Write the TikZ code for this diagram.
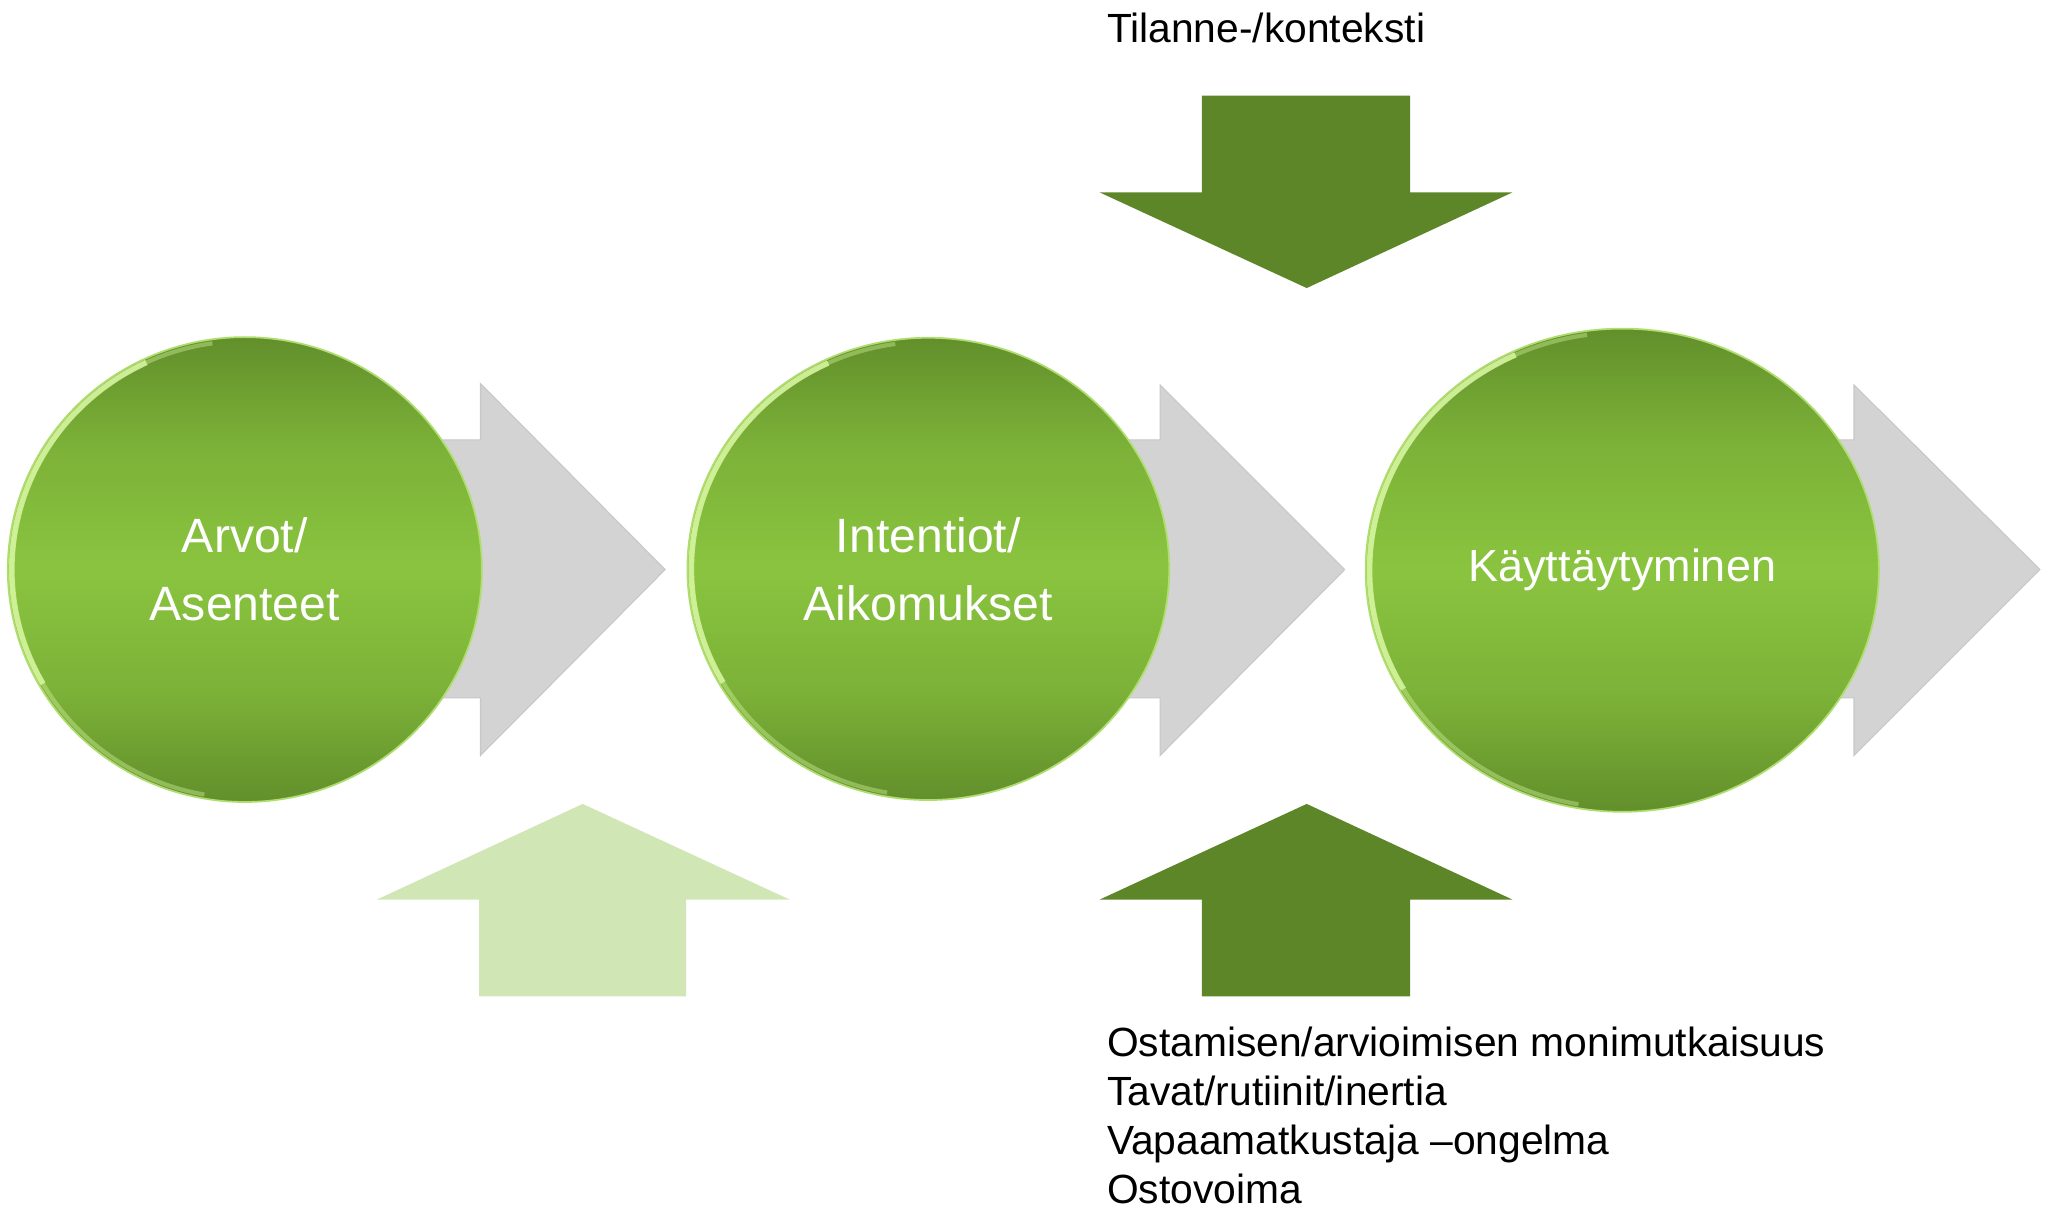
\documentclass[tikz,border=0pt]{standalone}
\usepackage{fontspec}
\setmainfont{Liberation Sans}
\usetikzlibrary{shapes.geometric}
\definecolor{stagedark}{RGB}{98,143,43}
\definecolor{stagelight}{RGB}{138,196,63}
\definecolor{stagemid}{RGB}{124,178,56}
\definecolor{stagerim}{RGB}{214,245,160}
\definecolor{factordark}{RGB}{92,134,39}
\definecolor{factorlight}{RGB}{208,230,181}
\definecolor{flowgray}{RGB}{211,211,211}
\pgfdeclareverticalshading{stageshade}{100bp}{color(0bp)=(stagedark); color(25bp)=(stagedark);
  color(37bp)=(stagemid); color(50bp)=(stagelight); color(63bp)=(stagemid); color(75bp)=(stagedark); color(100bp)=(stagedark)}

\begin{document}
\begin{tikzpicture}[x=0.013093cm, y=-0.013093cm,
    stage/.style={ellipse, inner sep=0pt, align=center, text=white,
      shading=stageshade, draw=stagerim!50!stagelight, line width=0.5pt,
      font=\fontsize{13.7}{19.3}\selectfont},
    flow/.style={fill=flowgray, draw=black!22, line width=0.3pt},
    push/.style={fill=factordark},
    pushlight/.style={fill=factorlight},
    rim/.style={draw=stagerim, line width=1.2pt, opacity=0.4},
    glow/.style={draw=stagerim, line width=1.6pt, opacity=0.85},
    factor/.style={anchor=base west, inner sep=0pt,
      font=\fontsize{11.6}{13.8}\selectfont}]
  \useasboundingbox (0,0) rectangle (1568,924);

  % gray process arrows, behind the stages
  \path[flow] (250,336) -- (367,336) -- (367,293) -- (508,435) -- (367,577) -- (367,533) -- (250,533) -- cycle;
  \path[flow] (760,336) -- (886,336) -- (886,294) -- (1027,435) -- (886,577) -- (886,533) -- (760,533) -- cycle;
  \path[flow] (1300,336) -- (1416,336) -- (1416,294) -- (1558,435) -- (1416,577) -- (1416,533) -- (1300,533) -- cycle;

  % stages
  \node[stage, minimum width=4.740cm, minimum height=4.648cm] (arvot) at (187,435) {Arvot/\\Asenteet};
  \node[stage, minimum width=4.818cm, minimum height=4.622cm] (intentiot) at (709,434.5) {Intentiot/\\Aikomukset};
  \node[stage, minimum width=5.132cm, minimum height=4.831cm,
    font=\fontsize{12.8}{19.3}\selectfont] (kaytos) at (1239,435.5) {Käyttäytyminen};

  % highlights on the left rims
  \draw[rim] (187,435) ++(100:178 and 174.5) arc[start angle=100, end angle=262, x radius=178, y radius=174.5];
  \draw[glow] (187,435) ++(150:178 and 174.5) arc[start angle=150, end angle=245, x radius=178, y radius=174.5];
  \draw[rim] (709,434.5) ++(100:181 and 173.5) arc[start angle=100, end angle=262, x radius=181, y radius=173.5];
  \draw[glow] (709,434.5) ++(150:181 and 173.5) arc[start angle=150, end angle=245, x radius=181, y radius=173.5];
  \draw[rim] (1239,435.5) ++(100:193 and 181.5) arc[start angle=100, end angle=262, x radius=193, y radius=181.5];
  \draw[glow] (1239,435.5) ++(150:193 and 181.5) arc[start angle=150, end angle=245, x radius=193, y radius=181.5];

  % influencing factors
  \path[push] (918,73) -- (1077,73) -- (1077,147) -- (1155,147) -- (998,220) -- (840,147) -- (918,147) -- cycle;
  \path[push] (998,614) -- (1155,687) -- (1077,687) -- (1077,761) -- (918,761) -- (918,687) -- (840,687) -- cycle;
  \path[pushlight] (445,614) -- (603,687) -- (524,687) -- (524,761) -- (366,761) -- (366,687) -- (288,687) -- cycle;

  \node[factor] (tilanne) at (845,32.6) {Tilanne-/konteksti};
  \node[factor] (ostaminen) at (845,807) {Ostamisen/arvioimisen monimutkaisuus};
  \node[factor] (tavat) at (845,844) {Tavat/rutiinit/inertia};
  \node[factor] (vapaamatka) at (845,882) {Vapaamatkustaja –ongelma};
  \node[factor] (ostovoima) at (845,919) {Ostovoima};
\end{tikzpicture}
\end{document}
